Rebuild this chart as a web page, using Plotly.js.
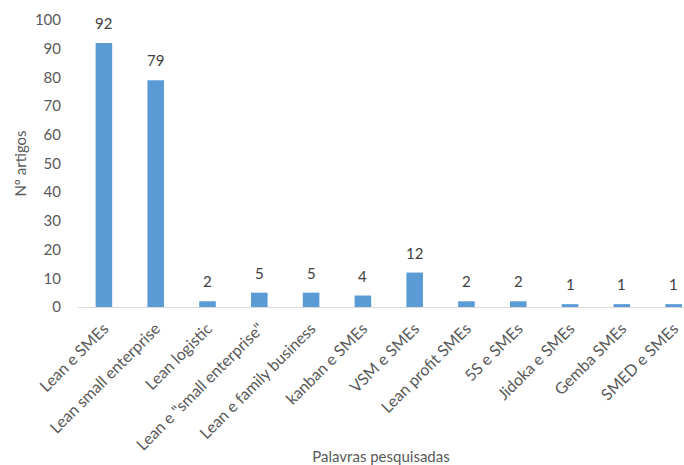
<!DOCTYPE html>
<html>
<head>
<meta charset="utf-8">
<script src="https://cdn.plot.ly/plotly-3.0.1.min.js"></script>
<style>
  html, body { margin: 0; padding: 0; background: #fff; }
  #chart { width: 684px; height: 465px; }
</style>
</head>
<body>
<div id="chart"></div>
<script>
// Search terms and number of articles found for each
const categories = [
  'Lean e SMEs',
  'Lean small enterprise',
  'Lean logistic',
  'Lean e "small enterprise"',
  'Lean e family business',
  'kanban e SMEs',
  'VSM e SMEs',
  'Lean profit SMEs',
  '5S e SMEs',
  'Jidoka e SMEs',
  'Gemba SMEs',
  'SMED e SMEs'
];
const articleCounts = [92, 79, 2, 5, 5, 4, 12, 2, 2, 1, 1, 1];
const yTicks = [0, 10, 20, 30, 40, 50, 60, 70, 80, 90, 100];

const fontFamily = 'Lato, "Open Sans", sans-serif';
const positions = categories.map((_, i) => i);

const trace = {
  type: 'bar',
  x: positions,
  y: articleCounts,
  width: 0.32,
  marker: { color: '#5B9BD5' },
  hoverinfo: 'x+y'
};

// value labels floating above each bar
const valueLabels = articleCounts.map((v, i) => ({
  x: positions[i],
  y: v,
  xref: 'x',
  yref: 'y',
  text: String(v),
  showarrow: false,
  yanchor: 'bottom',
  yshift: 9,
  font: { family: fontFamily, size: 15, color: '#404040' }
}));

const layout = {
  width: 684,
  height: 465,
  margin: { l: 78, r: 0, t: 20, b: 158 },
  paper_bgcolor: '#ffffff',
  plot_bgcolor: '#ffffff',
  showlegend: false,
  font: { family: fontFamily, size: 15, color: '#595959' },
  annotations: valueLabels,
  xaxis: {
    range: [-0.5, 11.2],
    tickmode: 'array',
    tickvals: positions,
    ticktext: categories,
    tickangle: -45,
    showgrid: false,
    zeroline: false,
    showline: true,
    linecolor: '#d9d9d9',
    linewidth: 1,
    ticks: '',
    ticklabelstandoff: 5,
    tickfont: { family: fontFamily, size: 16, color: '#595959' },
    title: { text: 'Palavras pesquisadas', font: { family: fontFamily, size: 15, color: '#595959' }, standoff: 8 }
  },
  yaxis: {
    range: [0, 100],
    tickmode: 'array',
    tickvals: yTicks,
    ticktext: yTicks.map(String),
    showgrid: false,
    zeroline: false,
    showline: false,
    ticks: '',
    ticklabelstandoff: 16,
    tickfont: { family: fontFamily, size: 15, color: '#595959' },
    title: { text: 'Nº artigos', font: { family: fontFamily, size: 15, color: '#595959' }, standoff: 4 }
  }
};

Plotly.newPlot('chart', [trace], layout, { displayModeBar: false, staticPlot: true });
</script>
</body>
</html>
